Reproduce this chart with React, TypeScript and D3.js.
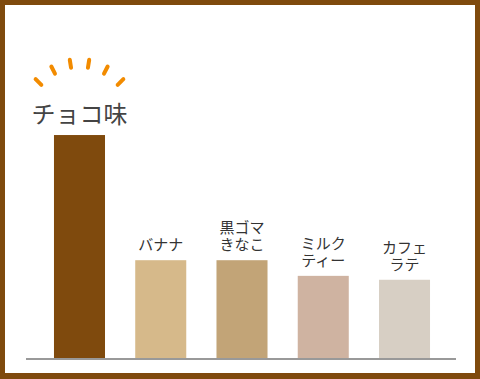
import React from "react";
import * as d3 from "d3";

const categories: string[][] = [["チョコ味"], ["バナナ"], ["黒ゴマ", "きなこ"], ["ミルク", "ティー"], ["カフェ", "ラテ"]];
const values: number[] = [57, 25, 25, 21, 20];
const colors: string[] = ["#7f4a0d", "#d6b98a", "#c2a477", "#cfb3a1", "#d7cfc4"];
const burstAngles: number[] = [135, 117, 99, 81, 63, 45];

const W = 480;
const H = 379;
const BORDER = 5;
const BROWN = "#7f4a0d";
const FONT = "'Noto Sans CJK JP', 'Noto Sans', sans-serif";

export default function App() {
  const baseline = 358;
  const x = d3
    .scaleBand<number>()
    .domain(values.map((_, i) => i))
    .range([27, 457])
    .paddingInner(0.372)
    .paddingOuter(0.332);
  const y = d3.scaleLinear().domain([0, 60]).range([baseline, baseline - 234.7]);

  const c0 = x(0)! + x.bandwidth() / 2;
  const burstCx = c0;
  const burstCy = 128;

  return (
    <svg
      width={W}
      height={H}
      style={{ position: "absolute", left: 0, top: 0, display: "block" }}
    >
      <rect x={0} y={0} width={W} height={H} fill={BROWN} />
      <rect x={BORDER} y={BORDER} width={W - 2 * BORDER} height={H - 2 * BORDER - 1} fill="#fff" />
      {values.map((v, i) => (
        <rect
          key={i}
          x={x(i)}
          y={y(v)}
          width={x.bandwidth()}
          height={baseline - y(v)}
          fill={colors[i]}
        />
      ))}
      <line x1={26} x2={456} y1={baseline + 1} y2={baseline + 1} stroke="#999" strokeWidth={2} />
      {categories.map((lines, i) => {
        const cx = x(i)! + x.bandwidth() / 2;
        const top = y(values[i]);
        if (i === 0) {
          return (
            <text
              key={i}
              x={cx}
              y={top - 12}
              textAnchor="middle"
              fontFamily={FONT}
              fontSize={24}
              fill="#444"
            >
              {lines[0]}
            </text>
          );
        }
        return (
          <text key={i} textAnchor="middle" fontFamily={FONT} fontSize={15} fill="#333">
            {lines.map((ln, j) => (
              <tspan key={j} x={cx} y={top - 10 - (lines.length - 1 - j) * 17}>
                {ln}
              </tspan>
            ))}
          </text>
        );
      })}
      {burstAngles.map((a, i) => {
        const rad = (a * Math.PI) / 180;
        const rx = 58;
        const ry = 65;
        const mx = burstCx + rx * Math.cos(rad);
        const my = burstCy - ry * Math.sin(rad);
        const dx = Math.cos(rad) * 4;
        const dy = -Math.sin(rad) * 4;
        return (
          <line
            key={i}
            x1={mx - dx}
            y1={my - dy}
            x2={mx + dx}
            y2={my + dy}
            stroke="#f28b00"
            strokeWidth={4}
            strokeLinecap="round"
          />
        );
      })}
    </svg>
  );
}
